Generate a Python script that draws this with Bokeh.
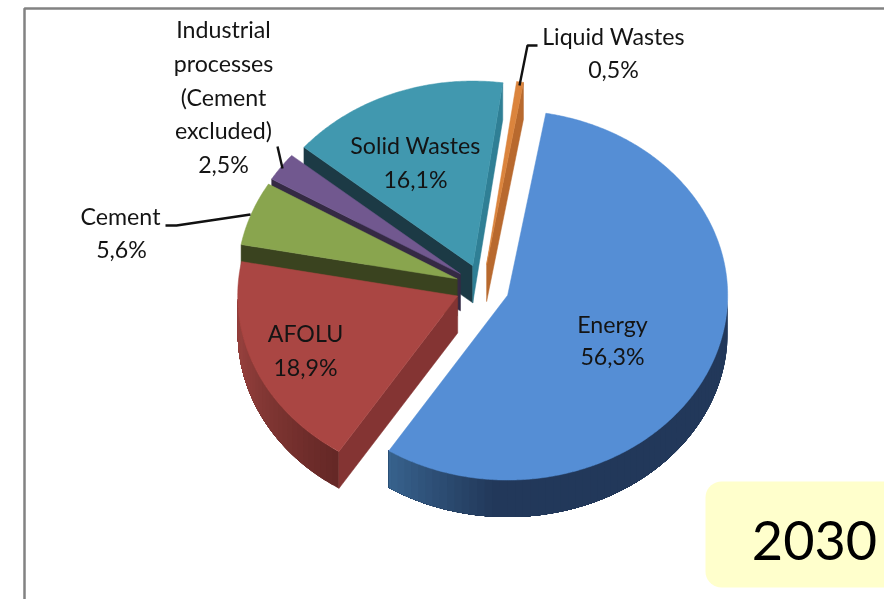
import numpy as np
from bokeh.plotting import figure
from bokeh.models import Range1d
from bokeh.core.properties import value
from bokeh.embed import file_html
from bokeh.resources import INLINE

# ---- data
categories = ["Energy", "AFOLU", "Cement", "Industrial processes (Cement excluded)", "Solid Wastes", "Liquid Wastes"]
shares = [56.3, 18.9, 5.6, 2.5, 16.1, 0.5]
share_labels = ["56,3%", "18,9%", "5,6%", "2,5%", "16,1%", "0,5%"]
year_label = "2030"

# ---- styles
top_colors = ["#558ed5", "#aa4643", "#89a54e", "#71588f", "#4198af", "#db843d"]
wall_light = ["#38648f", "#94403c", "#3a431f", "#352a44", "#1c3a45", "#b8692e"]
wall_dark = ["#22385a", "#652826", "#3a431f", "#352a44", "#1c3a45", "#b8692e"]
start_face = ["#22385a", "#843433", "#3a431f", "#352a44", "#1c3a45", "#b8692e"]
end_face = ["#22385a", "#843433", "#3a431f", "#352a44", "#2f7f95", "#b8692e"]
paint_order = [5, 4, 3, 2, 1, 0]

# ---- pie geometry in page pixels
W, H = 884, 599
CX, CY = 482.0, 286.5
R, TILT, DEPTH, EXPLODE = 220.0, 0.84, 37.0, 27.0
FIRST_ANGLE = 10.0

p = figure(width=W, height=H, x_range=Range1d(0, W), y_range=Range1d(H, 0),
           toolbar_location=None, output_backend="svg", min_border=0)
p.axis.visible = False
p.grid.visible = False
p.outline_line_color = None
p.background_fill_color = "white"
p.styles = {"position": "fixed", "left": "0px", "top": "0px"}

# frame of the picture
p.line([24, 24, W], [H, 8, 8], line_color="#828282", line_width=2.5)


def pt(cx, cy, deg, r=R):
    a = np.radians(deg)
    return cx + r * np.sin(a), cy - r * TILT * np.cos(a)


def mix(c1, c2, t):
    a = [int(c1[i:i + 2], 16) for i in (1, 3, 5)]
    b = [int(c2[i:i + 2], 16) for i in (1, 3, 5)]
    return "#%02x%02x%02x" % tuple(int(round(u + (v - u) * t)) for u, v in zip(a, b))


edges = FIRST_ANGLE + np.concatenate([[0], np.cumsum(shares)]) * 3.6

for i in paint_order:
    a0, a1 = edges[i], edges[i + 1]
    mid = np.radians((a0 + a1) / 2)
    cx = CX + EXPLODE * np.sin(mid)
    cy = CY - EXPLODE * TILT * np.cos(mid)

    # outer wall: nested polygons, each painted over the last, give a seamless shading
    lo, hi = max(a0, 90.0), min(a1, 270.0)
    if hi > lo:
        for b0 in np.arange(lo, hi, 2.0):
            if i == 0:
                col = mix(wall_light[i], wall_dark[i], min(1.0, (hi - b0) / 30.0))
            elif i == 1:
                col = mix(wall_dark[i], wall_light[i], min(1.0, (b0 - lo) / 45.0))
            else:
                col = wall_dark[i]
            arc = np.linspace(b0, hi, max(3, int(hi - b0) * 2))
            ax, ay = pt(cx, cy, arc)
            p.patch(np.r_[ax, ax[::-1]], np.r_[ay, (ay + DEPTH)[::-1]],
                    fill_color=col, line_color=None)

    # radial faces that are turned towards the viewer
    if np.sin(np.radians(a0)) < 0:
        x0, y0 = pt(cx, cy, a0)
        p.patch([cx, x0, x0, cx], [cy, y0, y0 + DEPTH, cy + DEPTH],
                fill_color=start_face[i], line_color=start_face[i], line_width=0.5)
    if np.sin(np.radians(a1)) > 0:
        x1, y1 = pt(cx, cy, a1)
        p.patch([cx, x1, x1, cx], [cy, y1, y1 + DEPTH, cy + DEPTH],
                fill_color=end_face[i], line_color=end_face[i], line_width=0.5)

    # top surface
    arc = np.linspace(a0, a1, max(3, int(a1 - a0) * 2))
    ax, ay = pt(cx, cy, arc)
    p.patch(np.r_[cx, ax], np.r_[cy, ay], fill_color=top_colors[i],
            line_color=top_colors[i], line_width=0.5)

# leader lines
leader_color = "#111111"
p.line([282, 277], [168, 146], line_color=leader_color, line_width=2.4)
p.line([250, 176, 165], [214, 225, 225], line_color=leader_color, line_width=2.4)
p.line([519, 527, 537], [85, 45, 45], line_color=leader_color, line_width=2.4)

# labels (lines stacked by hand, as in the reference)
FONT = value("Lato")
FS = "23.2px"
label_rows = [
    (612, 323, categories[0]), (612, 355, share_labels[0]),
    (305, 332, categories[1]), (305, 366, share_labels[1]),
    (120, 215, categories[2]), (121, 248, share_labels[2]),
    (223, 28, "Industrial"), (223, 62, "processes"), (223, 96, "(Cement"),
    (223, 129, "excluded)"), (223, 163, share_labels[3]),
    (415, 144, categories[4]), (415, 178, share_labels[4]),
    (613, 35, categories[5]), (613, 68, share_labels[5]),
]
for x, y, s in label_rows:
    p.text([x], [y], text=[s], text_font=FONT, text_font_size=FS, text_color="#141414",
           text_align="center", text_baseline="middle")

# year box
bx0, bx1, by0, by1, rad = 705, 900, 481, 587, 16
th = np.linspace(0, np.pi / 2, 10)
box_x = np.r_[bx0 + rad - rad * np.cos(th), bx1, bx1, bx0 + rad - rad * np.sin(th)]
box_y = np.r_[by0 + rad - rad * np.sin(th), by0, by1, by1 - rad + rad * np.cos(th)]
p.patch(box_x, box_y, fill_color="#ffffcc", line_color=None)
p.text([814], [540], text=[year_label], text_font=FONT, text_font_size="54px",
       text_color="#000000", text_align="center", text_baseline="middle")

open("out.html", "w").write(file_html(p, INLINE))
